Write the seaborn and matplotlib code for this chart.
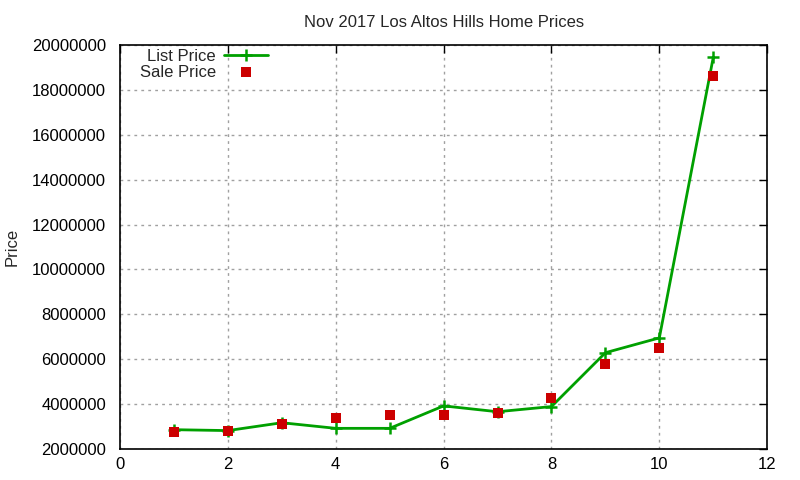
import matplotlib
matplotlib.use("Agg")
import matplotlib.pyplot as plt
import seaborn as sns
import pandas as pd
from matplotlib.ticker import FuncFormatter, MultipleLocator

# Data
home_index = [1, 2, 3, 4, 5, 6, 7, 8, 9, 10, 11]
list_price = [2860000, 2820000, 3170000, 2920000, 2920000, 3920000, 3660000, 3890000, 6290000, 6950000, 19450000]
sale_price = [2770000, 2820000, 3130000, 3400000, 3530000, 3530000, 3620000, 4290000, 5800000, 6510000, 18640000]
title_text = "Nov 2017 Los Altos Hills Home Prices"
y_label = "Price"

df = pd.DataFrame({"idx": home_index, "List Price": list_price, "Sale Price": sale_price})

sns.set_theme(style="white")
plt.rcParams['font.family'] = ['Liberation Sans', 'DejaVu Sans']
plt.rcParams['font.size'] = 10

fig = plt.figure(figsize=(8, 4.8), dpi=100)
ax = fig.add_axes([0.15, 0.0646, 0.809, 0.8417])

green = "#00a000"
red = "#cc0000"

sns.lineplot(data=df, x="idx", y="List Price", ax=ax, color=green, linewidth=2,
             marker="+", markersize=9, markeredgewidth=1.8, markeredgecolor=green,
             label="List Price")
sns.scatterplot(data=df, x="idx", y="Sale Price", ax=ax, color=red, marker="s",
                s=55, edgecolor=red, linewidth=0, label="Sale Price", zorder=3)

ax.set_xlim(0, 12)
ax.set_ylim(2000000, 20000000)
ax.xaxis.set_major_locator(MultipleLocator(2))
ax.yaxis.set_major_locator(MultipleLocator(2000000))
ax.yaxis.set_major_formatter(FuncFormatter(lambda v, p: f"{int(round(v))}"))

ax.grid(True, color="#a0a0a0", linestyle=(0, (2, 3)), linewidth=1)
for s in ax.spines.values():
    s.set_color("black")
    s.set_linewidth(1.2)
ax.tick_params(direction="in", length=6, width=1, top=True, right=True,
               labelsize=12, colors="black", pad=10)
ax.tick_params(axis="x", pad=6)

ax.set_xlabel("")
ax.set_ylabel(y_label, fontsize=12)
ax.yaxis.set_label_coords(-0.155, 0.5)
ax.set_title(title_text, fontsize=12, pad=13)

leg = ax.legend(loc="upper right", bbox_to_anchor=(0.228, 0.99), frameon=False,
                markerfirst=False, fontsize=12, handlelength=2.6,
                handletextpad=0.5, labelspacing=0.05, borderaxespad=0, borderpad=0)

fig.savefig("out.png", dpi=100)
